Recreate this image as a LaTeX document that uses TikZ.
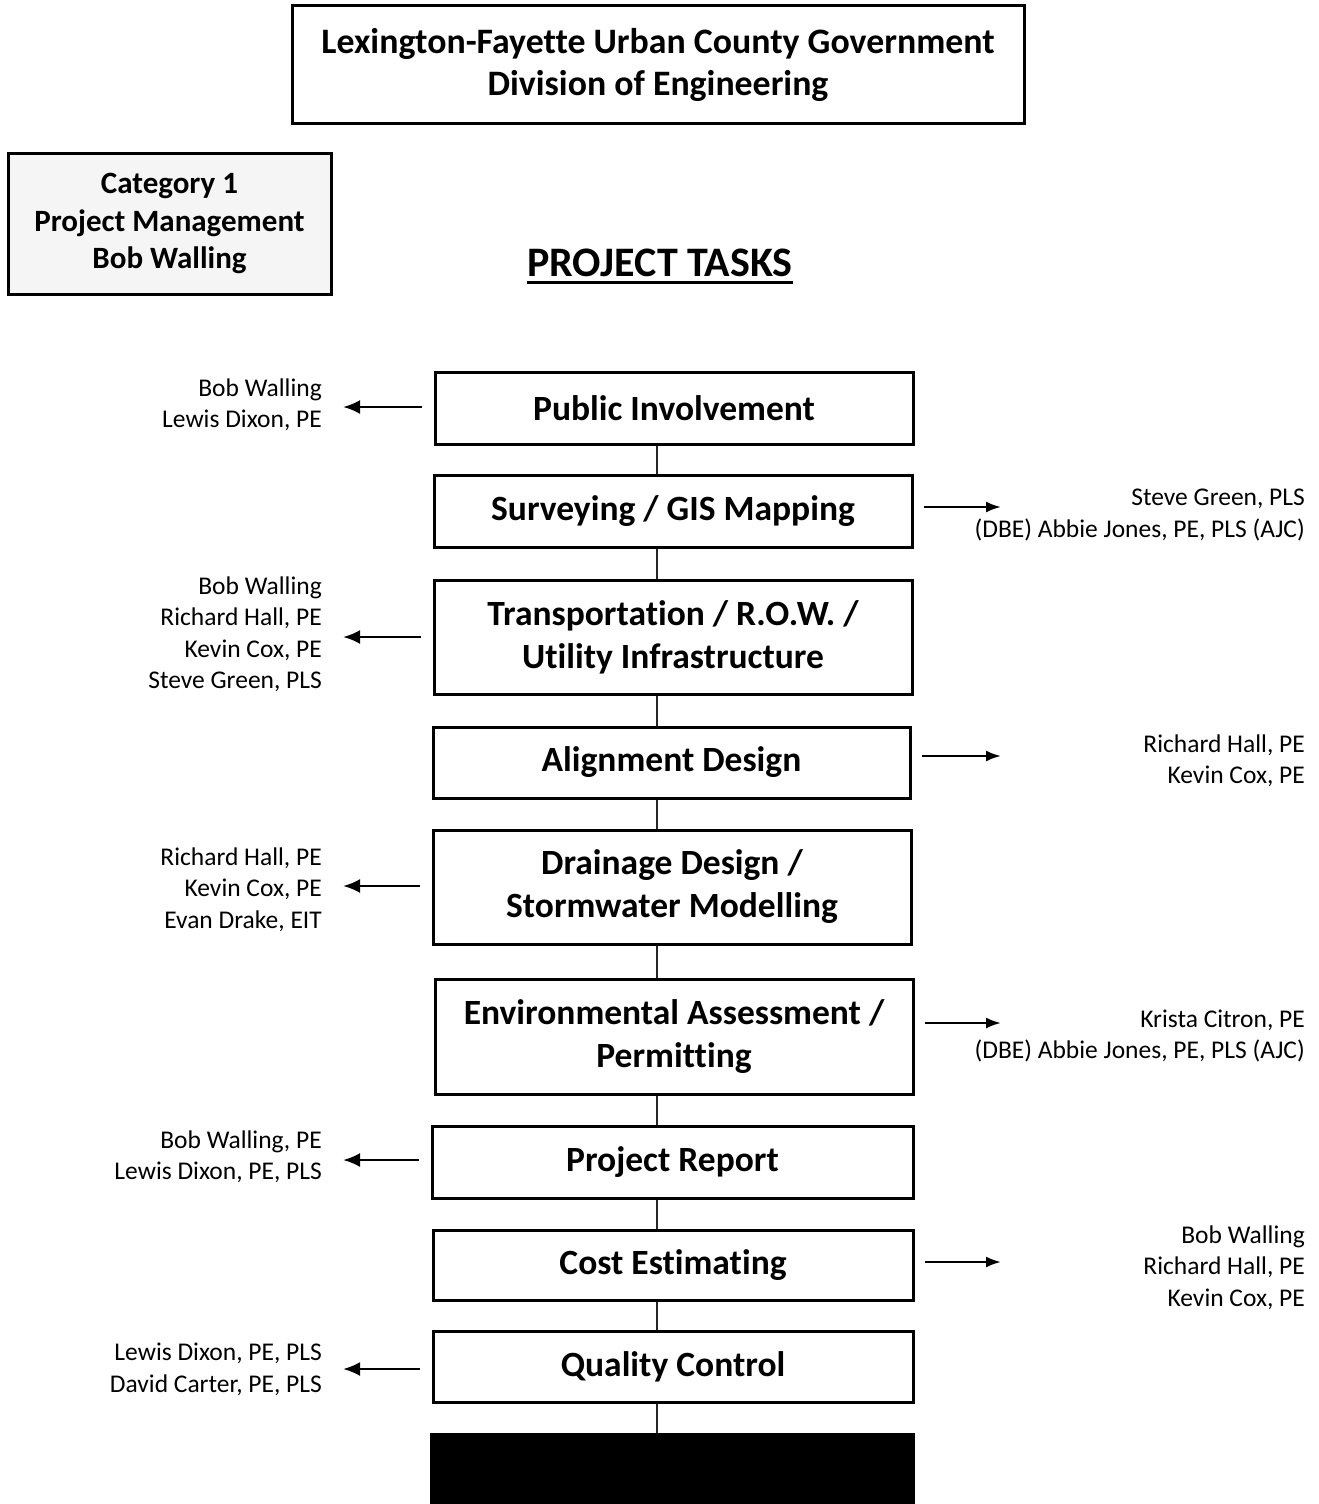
\documentclass[tikz,border=0pt]{standalone}
\usepackage{fontspec}
\setmainfont[Ligatures=NoCommon]{Carlito}
\usetikzlibrary{arrows.meta,calc}
\tikzset{
  task/.style={draw, line width=3pt, minimum width=478pt, inner sep=0pt, align=center,
    font=\bfseries\fontsize{35.5}{43}\selectfont},
  lbl/.style={align=right, inner sep=0pt, font=\fontsize{25.5}{31.5}\selectfont},
  larr/.style={line width=2.6pt, -{Latex[length=17pt,width=14pt]}},
  rarr/.style={line width=2.3pt, -{Latex[length=15pt,width=11pt]}},
  conn/.style={line width=2pt, black!85},
}
\begin{document}
\begin{tikzpicture}[x=1pt,y=-1pt]
\useasboundingbox (0,0) rectangle (1319,1504);
\begin{scope}
\clip (0,0) rectangle (1319,1504);
% title
\node[draw, line width=3pt, minimum width=732pt, minimum height=117pt, align=center,
  font=\bfseries\fontsize{35.8}{42}\selectfont] (title) at (658,64.5)
  {Lexington-Fayette Urban County Government\\Division of Engineering};
\node[draw, line width=3pt, fill=black!4, minimum width=323pt, minimum height=141pt, align=center,
  font=\bfseries\fontsize{31}{37.5}\selectfont] (cat) at (169.5,223.5)
  {Category 1\\Project Management\\Bob Walling};
\node[inner sep=0pt, font=\bfseries\fontsize{42}{48}\selectfont] (pt) at (660,263) {PROJECT TASKS};
\draw[line width=3pt] ([yshift=-6pt]pt.base west) -- ([yshift=-6pt]pt.base east);

\coordinate (spine) at (657,0);
\node[task, minimum height=72pt] (b1) at (674,408) {Public Involvement};
\node[task, minimum height=72pt] (b2) at (673,511) {Surveying / GIS Mapping};
\node[task, minimum height=114pt] (b3) at (673,637) {Transportation / R.O.W. /\\Utility Infrastructure};
\node[task, minimum height=71pt, minimum width=477pt] (b4) at (671.5,762.5) {Alignment Design};
\node[task, minimum height=114pt] (b5) at (672,887) {Drainage Design /\\Stormwater Modelling};
\node[task, minimum height=115pt] (b6) at (674,1036.5) {Environmental Assessment /\\Permitting};
\node[task, minimum height=72pt, minimum width=481pt] (b7) at (672.5,1162) {Project Report};
\node[task, minimum height=70pt, minimum width=480pt] (b8) at (673,1265) {Cost Estimating};
\node[task, minimum height=71pt, minimum width=480pt] (b9) at (673,1366.5) {Quality Control};
\node[task, minimum height=82pt, minimum width=482pt, fill=black] (b10) at (672,1475) {};

\foreach \a/\b in {b1/b2,b2/b3,b3/b4,b4/b5,b5/b6,b6/b7,b7/b8,b8/b9,b9/b10}
  \draw[conn] (\a.south -| spine) -- (\b.north -| spine);

% left labels
\node[lbl, anchor=east] (l1) at (322,405) {Bob Walling\\Lewis Dixon, PE};
\node[lbl, anchor=east] (l3) at (322,634.5) {Bob Walling\\Richard Hall, PE\\Kevin Cox, PE\\Steve Green, PLS};
\node[lbl, anchor=east] (l5) at (322,889.5) {Richard Hall, PE\\Kevin Cox, PE\\Evan Drake, EIT};
\node[lbl, anchor=east] (l7) at (322,1157) {Bob Walling, PE\\Lewis Dixon, PE, PLS};
\node[lbl, anchor=east] (l9) at (322,1369.5) {Lewis Dixon, PE, PLS\\David Carter, PE, PLS};
\foreach \b/\l/\y in {b1/l1/407,b3/l3/637,b5/l5/886,b7/l7/1160,b9/l9/1369}
  \draw[larr] (\b.west |- 0,\y) ++(-12,0) -- (343,\y);

% right labels
\node[lbl, anchor=east] (r2) at (1305,515) {Steve Green, PLS\\(DBE) Abbie Jones, PE, PLS (AJC)};
\node[lbl, anchor=east] (r4) at (1305,761) {Richard Hall, PE\\Kevin Cox, PE};
\node[lbl, anchor=east] (r6) at (1305,1036) {Krista Citron, PE\\(DBE) Abbie Jones, PE, PLS (AJC)};
\node[lbl, anchor=east] (r8) at (1305,1267.5) {Bob Walling\\Richard Hall, PE\\Kevin Cox, PE};
\foreach \b/\y in {b2/507,b4/756,b6/1023,b8/1262}
  \draw[rarr] (\b.east |- 0,\y) ++(10,0) -- (1001,\y);
\end{scope}
\end{tikzpicture}
\end{document}
